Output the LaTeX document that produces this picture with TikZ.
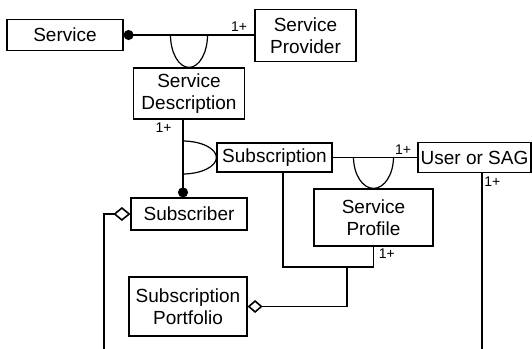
\documentclass[tikz,border=0pt]{standalone}
\usepackage{fontspec}
\setmainfont{Liberation Sans}
\usetikzlibrary{arrows.meta}

\begin{document}
\begin{tikzpicture}[x=0.5pt,y=-0.5pt,
  cls/.style={draw,line width=0.6pt,inner sep=0pt,align=center,font=\fontsize{9.5}{11}\selectfont},
  mult/.style={inner sep=0.5pt,font=\fontsize{7}{8}\selectfont},
  link/.style={line width=0.8pt},
  socket/.style={line width=0.6pt}]
\useasboundingbox (0,0) rectangle (532,349);
% the classes
\node[cls,minimum width=58pt,minimum height=15.5pt] (service) at (65,35) {Service};
\node[cls,minimum width=50.5pt,minimum height=26pt] (provider) at (305.5,35.5) {Service\\Provider};
\node[cls,minimum width=55.5pt,minimum height=25.5pt] (desc) at (189,93.5) {Service\\Description};
\node[cls,minimum width=57.5pt,minimum height=14.5pt] (subscr) at (274.5,157.5) {Subscription};
\node[cls,minimum width=56.5pt,minimum height=15pt] (user) at (474.5,157.5) {User or SAG};
\node[cls,minimum width=59.5pt,minimum height=28.5pt] (profile) at (373.5,217.5) {Service\\Profile};
\node[cls,minimum width=58pt,minimum height=16pt] (subscriber) at (189,214) {Subscriber};
\node[cls,minimum width=59pt,minimum height=29.5pt] (portfolio) at (188,306.5) {Subscription\\Portfolio};
\coordinate (tee) at (347,267);
\coordinate (leftend) at (104,349);
\coordinate (userend) at (482,349);
% service -- provider, with the description hanging below
\draw[link,{Circle[length=5pt]}-] (service.east) -- (service.east -| provider.west);
\draw[socket] (desc.north) arc[start angle=270,end angle=180,x radius=9.25pt,y radius=16.25pt];
\draw[socket] (desc.north) arc[start angle=270,end angle=360,x radius=9.25pt,y radius=16.25pt];
\node[mult,anchor=south east] at ([xshift=-3pt,yshift=1.5pt]provider.west) {1+};
% description -- subscriber, subscription on the side
\draw[link,-{Circle[length=5pt]}] ([xshift=-3pt]desc.south) -- ([xshift=-3pt]subscriber.north);
\draw[socket] (subscr.west) arc[start angle=0,end angle=90,x radius=17pt,y radius=8.25pt];
\draw[socket] (subscr.west) arc[start angle=0,end angle=-90,x radius=17pt,y radius=8.25pt];
\node[mult,anchor=north east] at ([xshift=-8pt,yshift=-1pt]desc.south) {1+};
% subscription -- user, profile below
\draw[link] (subscr.east) -- (user.west);
\draw[socket] (profile.north) arc[start angle=270,end angle=180,x radius=10pt,y radius=15.75pt];
\draw[socket] (profile.north) arc[start angle=270,end angle=360,x radius=10pt,y radius=15.75pt];
\node[mult,anchor=south east] at ([xshift=-2.5pt,yshift=1pt]user.west) {1+};
\draw[link] ([xshift=3.75pt]user.south) -- (userend);
\node[mult,anchor=north west] at ([xshift=4.25pt,yshift=-1pt]user.south) {1+};
% subscription and profile joined, into the portfolio
\draw[link] ([xshift=4.25pt]subscr.south) |- (tee) -| (profile.south);
\node[mult,anchor=north west] at ([xshift=2pt,yshift=-0.5pt]profile.south) {1+};
\draw[link,{Diamond[open,length=7.5pt,width=6.5pt]}-] (portfolio.east) -| (tee);
\draw[link,{Diamond[open,length=8.5pt,width=7pt]}-] (subscriber.west) -| (leftend);
\end{tikzpicture}
\end{document}
